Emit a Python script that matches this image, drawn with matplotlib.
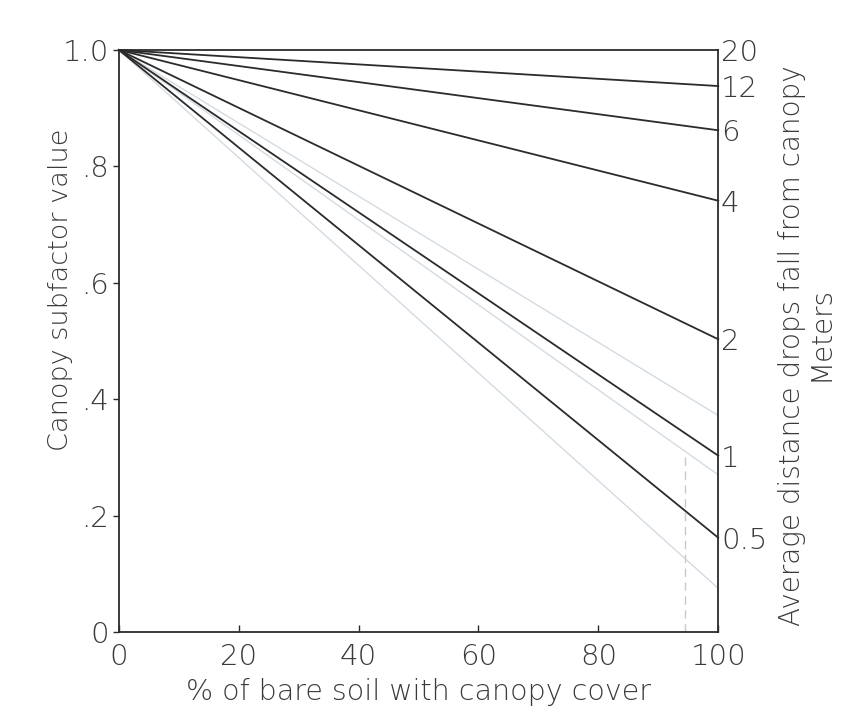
import matplotlib.pyplot as plt
import numpy as np

# canopy cover, % of bare soil
cover = [0, 100]

# drop fall height (m) and subfactor value reached at 100 % cover
fall_height = ['20', '12', '6', '4', '2', '1', '0.5']
end_value = [1.0, 0.938, 0.862, 0.741, 0.503, 0.303, 0.162]

# faint lines showing through from the back of the page
ghost_end = [0.372, 0.27, 0.075]

y_ticks = [0, 0.2, 0.4, 0.6, 0.8, 1.0]
y_labels = ['0', '.2', '.4', '.6', '.8', '1.0']
x_ticks = [0, 20, 40, 60, 80, 100]

ink = '#2b2b2b'
txt = '#3a3a3a'
plt.rcParams['font.family'] = ['DejaVu Sans']
plt.rcParams['font.weight'] = 'light'

fig = plt.figure(figsize=(8.43, 7.24), dpi=100)
ax = fig.add_axes([0.141, 0.127, 0.711, 0.804])

for v in ghost_end:
    ax.plot(cover, [1.0, v], color='#d3dbe2', lw=1.0, zorder=1)
ax.plot([94.5, 94.5], [0, 0.3], color='#c8c8c8', lw=1.0, ls=(0, (6, 4)), zorder=1)

for v in end_value:
    ax.plot(cover, [1.0, v], color=ink, lw=1.3, clip_on=False, zorder=3)

ax.set_xlim(0, 100)
ax.set_ylim(0, 1.0)

ax.spines['top'].set_visible(False)
for s in ['left', 'right', 'bottom']:
    ax.spines[s].set_color(ink)
    ax.spines[s].set_linewidth(1.3)

ax.set_yticks(y_ticks)
ax.set_yticklabels(y_labels)
ax.set_xticks(x_ticks)
ax.tick_params(axis='y', direction='out', length=4, width=1, color=ink,
               labelsize=21, labelcolor=txt, pad=3)
ax.tick_params(axis='x', direction='in', length=5, width=1, color=ink,
               labelsize=21, labelcolor=txt, pad=8)

# right-hand scale: fall height labels at the line ends
ax2 = ax.twinx()
ax2.set_ylim(ax.get_ylim())
ax2.set_yticks(end_value)
ax2.set_yticklabels(fall_height)
ax2.tick_params(axis='y', length=0, labelsize=21, labelcolor=txt, pad=2)
for s in ax2.spines.values():
    s.set_visible(False)

fig.text(0.4965, 0.044, '% of bare soil with canopy cover', ha='center',
         va='center', fontsize=20.5, color=txt)
fig.text(0.072, 0.60, 'Canopy subfactor value', rotation=90, ha='center',
         va='center', fontsize=19.5, color=txt)
fig.text(0.940, 0.523, 'Average distance drops fall from canopy',
         rotation=90, ha='center', va='center', fontsize=20, color=txt)
fig.text(0.973, 0.54, 'Meters', rotation=90, ha='center', va='center',
         fontsize=20, color=txt)

fig.savefig('out.png', dpi=100)
